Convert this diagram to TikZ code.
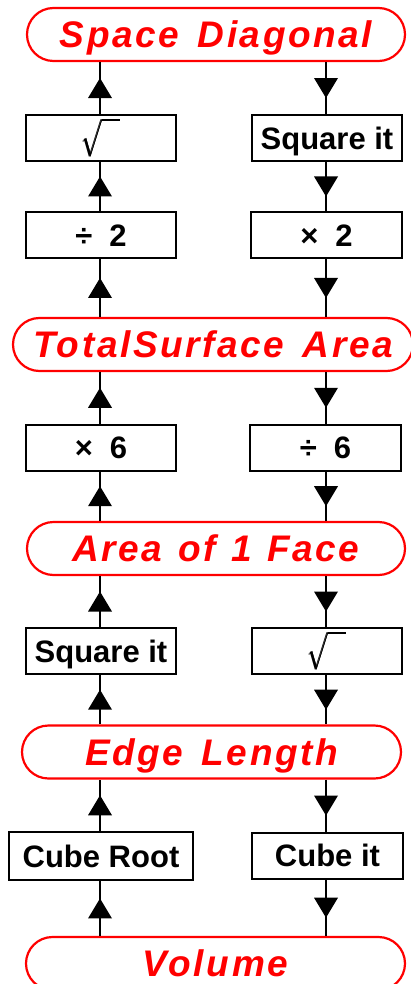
\RequirePackage{fix-cm}
\documentclass[tikz,border=0pt]{standalone}
\usepackage{exscale}
\usepackage{amsmath,amsbsy}
\usepackage{fontspec}
\setmainfont{Liberation Sans}
\usetikzlibrary{decorations.markings}
\definecolor{pillred}{RGB}{255,0,0}
\newcommand{\opgap}{\hspace{17pt}}
\newcommand{\wgap}{\hspace{0.5em}}
\newcommand{\radsym}{$\pmb{\sqrt{\rule{0pt}{27pt}\hspace{18pt}}}$\hspace{8pt}}
\tikzset{
  boxline/.style={draw=black, line width=2pt, minimum width=150pt, minimum height=46pt, inner sep=0pt},
  opbox/.style={boxline, font=\fontsize{31}{31}\selectfont\bfseries, text height=22.2pt, text depth=0pt},
  radbox/.style={boxline, font=\fontsize{19.5}{19.5}\selectfont},
  pill/.style={draw=pillred, line width=2.2pt, rounded corners=26.5pt, minimum height=53pt, inner sep=0pt,
    text=pillred, font=\fontsize{37}{37}\selectfont\bfseries\itshape\addfontfeature{LetterSpace=7},
    text height=26.5pt, text depth=0pt},
  flow/.style={line width=2pt, postaction={decorate, decoration={markings,
    mark=at position 0.5 with {\fill (10,0) -- (-10,12) -- (-10,-12) -- cycle;}}}},
}
\begin{document}
\begin{tikzpicture}[x=1pt, y=-1pt]
\useasboundingbox (0,0) rectangle (411,984);
\coordinate (L) at (100,0);
\coordinate (R) at (326,0);
% pills
\node[pill, minimum width=378pt] (sd)  at (216,34.5)   {Space\wgap Diagonal};
\node[pill, minimum width=400pt] (tsa) at (213,344.5)  {TotalSurface\wgap Area};
\node[pill, minimum width=378pt] (aof) at (216,548.5)  {Area\hspace{0.42em}of\hspace{0.42em}1\hspace{0.42em}Face};
\node[pill, minimum width=379pt] (el)  at (211.5,752)  {Edge\wgap Length};
\node[pill, minimum width=379pt] (vol) at (215.5,963.5){Volume};
% boxes
\node[radbox] (b1L) at (101,138) {\radsym};
\node[opbox]  (b1R) at (327,138) {Square it};
\node[opbox]  (b2L) at (101,235) {÷\opgap 2};
\node[opbox, minimum width=151pt] (b2R) at (326.5,235) {×\opgap 2};
\node[opbox]  (b3L) at (101,447.5) {×\opgap 6};
\node[opbox, minimum width=151pt] (b3R) at (325.5,447.5) {÷\opgap 6};
\node[opbox]  (b4L) at (101,651) {Square it};
\node[radbox] (b4R) at (327,651) {\radsym};
\node[opbox, minimum width=184pt, minimum height=48pt] (b5L) at (101,856) {Cube Root};
\node[opbox, minimum width=151pt] (b5R) at (327.5,855.5) {Cube it};
% connectors
\draw[flow] (b1L.north -| L) -- (sd.south -| L);
\draw[flow] (sd.south -| R) -- (b1R.north -| R);
\draw[flow] (b2L.north -| L) -- (b1L.south -| L);
\draw[flow] (b1R.south -| R) -- (b2R.north -| R);
\draw[flow] (tsa.north -| L) -- (b2L.south -| L);
\draw[flow] (b2R.south -| R) -- (tsa.north -| R);
\draw[flow] (b3L.north -| L) -- (tsa.south -| L);
\draw[flow] (tsa.south -| R) -- (b3R.north -| R);
\draw[flow] (aof.north -| L) -- (b3L.south -| L);
\draw[flow] (b3R.south -| R) -- (aof.north -| R);
\draw[flow] (b4L.north -| L) -- (aof.south -| L);
\draw[flow] (aof.south -| R) -- (b4R.north -| R);
\draw[flow] (el.north -| L) -- (b4L.south -| L);
\draw[flow] (b4R.south -| R) -- (el.north -| R);
\draw[flow] (b5L.north -| L) -- (el.south -| L);
\draw[flow] (el.south -| R) -- (b5R.north -| R);
\draw[flow] (vol.north -| L) -- (b5L.south -| L);
\draw[flow] (b5R.south -| R) -- (vol.north -| R);
\end{tikzpicture}
\end{document}
